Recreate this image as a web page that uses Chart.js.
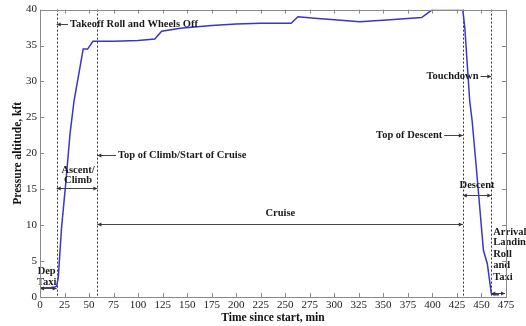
<!DOCTYPE html>
<html>
<head>
<meta charset="utf-8">
<script src="https://cdn.jsdelivr.net/npm/chart.js@4"></script>
<style>
  body { margin: 0; background: #fff; }
  #chart-container { width: 526px; height: 326px; }
</style>
</head>
<body>
<div id="chart-container"><canvas id="chart"></canvas></div>
<script>
// flight profile: time since start (min) and pressure altitude (kft)
const timeMin = [0, 5, 10, 15, 17, 18.7, 22, 26.5, 30.6, 34.7, 39, 44, 48.5, 54, 58.5,
    75, 100, 117, 124, 143, 175, 200, 225, 256, 263, 280, 300, 326, 357, 389, 399, 420, 431,
    433, 438, 440.5, 445, 452, 456, 460, 462, 468];
const altitudeKft = [1.3, 1.3, 1.3, 1.4, 1.5, 2.8, 9.7, 16.2, 22.7, 27.3, 30.6, 34.5, 34.5, 35.6, 35.6,
    35.6, 35.7, 35.9, 37.0, 37.4, 37.8, 38.0, 38.1, 38.1, 39.0, 38.8, 38.6, 38.3, 38.6, 38.9, 39.9, 39.9, 39.9,
    37.5, 27.3, 24.5, 17.6, 6.5, 4.6, 0.5, 0.3, 0.3];

const xTicks = [0, 25, 50, 75, 100, 125, 150, 175, 200, 225, 250, 275, 300, 325, 350, 375, 400, 425, 450, 475];
const yTicks = [0, 5, 10, 15, 20, 25, 30, 35, 40];

// phase boundaries (dotted vertical lines), minutes
const phaseLines = [17, 58.5, 431, 460];

// labels pointing at a boundary: text, text anchor (min, kft), alignment, arrow tip (min)
const callouts = [
    { text: "Takeoff Roll and Wheels Off", x: 30.5, y: 38.0, align: "left", tip: 17 },
    { text: "Top of Climb/Start of Cruise", x: 79.5, y: 19.8, align: "left", tip: 58.5 },
    { text: "Top of Descent", x: 410, y: 22.5, align: "right", tip: 431 },
    { text: "Touchdown", x: 447, y: 30.8, align: "right", tip: 460 }
];

// phase spans with double arrows: from, to, arrow level, text lines, text anchor
const spans = [
    { from: 0, to: 17, y: 1.3, lines: ["Dep", "Taxi"], tx: 6.8, ty: [3.6, 2.1], align: "center" },
    { from: 17, to: 58.5, y: 15.2, lines: ["Ascent/", "Climb"], tx: 38.8, ty: [17.7, 16.2], align: "center" },
    { from: 58.5, to: 431, y: 10.1, lines: ["Cruise"], tx: 245, ty: [11.6], align: "center" },
    { from: 431, to: 460, y: 14.2, lines: ["Descent"], tx: 445.5, ty: [15.6], align: "center" },
    { from: 460, to: 474, y: 0.5, lines: ["Arrival", "Landing", "Roll", "and", "Taxi"], tx: 462,
      ty: [9.0, 7.6, 6.0, 4.4, 2.8], align: "left" }
];

const serif = "'Liberation Serif', 'DejaVu Serif', serif";

function arrowHead(ctx, x, y, dir){
    ctx.beginPath();
    ctx.moveTo(x, y);
    ctx.lineTo(x - dir * 4, y - 2);
    ctx.lineTo(x - dir * 4, y + 2);
    ctx.closePath();
    ctx.fill();
}

const framePlugin = {
    id: "frame",
    beforeDatasetsDraw(chart){
        const ctx = chart.ctx, xs = chart.scales.x, a = chart.chartArea;
        ctx.save();
        ctx.strokeStyle = "#333";
        ctx.lineWidth = 1;
        ctx.setLineDash([2, 2]);
        phaseLines.forEach(t => {
            const px = Math.round(xs.getPixelForValue(t)) + 0.5;
            ctx.beginPath();
            ctx.moveTo(px, a.top);
            ctx.lineTo(px, a.bottom);
            ctx.stroke();
        });
        ctx.restore();
    },
    afterDatasetsDraw(chart){
        const ctx = chart.ctx, xs = chart.scales.x, ys = chart.scales.y;
        ctx.save();
        ctx.font = "bold 10.5px " + serif;
        ctx.fillStyle = "#1a1a1a";
        ctx.strokeStyle = "#444";
        ctx.lineWidth = 1;
        ctx.textBaseline = "middle";

        callouts.forEach(c => {
            const tx = xs.getPixelForValue(c.x), py = Math.round(ys.getPixelForValue(c.y)) + 0.5;
            const tip = xs.getPixelForValue(c.tip);
            ctx.textAlign = c.align;
            ctx.fillText(c.text, tx, py);
            const dir = tip < tx ? -1 : 1;
            const start = c.align === "left" ? tx - 2 : tx + 2;
            ctx.beginPath();
            ctx.moveTo(start, py);
            ctx.lineTo(tip, py);
            ctx.stroke();
            ctx.fillStyle = "#333";
            arrowHead(ctx, tip, py, dir);
            ctx.fillStyle = "#1a1a1a";
        });

        spans.forEach(s => {
            const x1 = xs.getPixelForValue(s.from), x2 = xs.getPixelForValue(s.to);
            const py = Math.round(ys.getPixelForValue(s.y)) + 0.5;
            ctx.beginPath();
            ctx.moveTo(x1, py);
            ctx.lineTo(x2, py);
            ctx.stroke();
            ctx.fillStyle = "#333";
            arrowHead(ctx, x1, py, -1);
            arrowHead(ctx, x2, py, 1);
            ctx.fillStyle = "#1a1a1a";
            ctx.textAlign = s.align;
            s.lines.forEach((ln, i) => {
                ctx.fillText(ln, xs.getPixelForValue(s.tx), ys.getPixelForValue(s.ty[i]));
            });
        });
        ctx.restore();
    },
    afterDraw(chart){
        const ctx = chart.ctx, xs = chart.scales.x, ys = chart.scales.y, a = chart.chartArea;
        ctx.save();
        ctx.strokeStyle = "#8a8a8a";
        ctx.lineWidth = 1;
        ctx.strokeRect(Math.round(a.left) + 0.5, Math.round(a.top) + 0.5,
            Math.round(a.right - a.left), Math.round(a.bottom - a.top));
        ctx.beginPath();
        xTicks.forEach(t => {
            const px = Math.round(xs.getPixelForValue(t)) + 0.5;
            ctx.moveTo(px, a.bottom); ctx.lineTo(px, a.bottom - 4);
            ctx.moveTo(px, a.top); ctx.lineTo(px, a.top + 4);
        });
        yTicks.forEach(v => {
            const py = Math.round(ys.getPixelForValue(v)) + 0.5;
            ctx.moveTo(a.left, py); ctx.lineTo(a.left + 4, py);
            ctx.moveTo(a.right, py); ctx.lineTo(a.right - 4, py);
        });
        ctx.stroke();
        ctx.restore();
    }
};

const points = timeMin.map((t, i) => ({ x: t, y: altitudeKft[i] }));

const ctx = document.getElementById("chart").getContext("2d");

new Chart(ctx, {
    type: "line",
    data: {
        datasets: [{
            data: points,
            borderColor: "#3b35c8",
            borderWidth: 1.5,
            pointRadius: 0,
            tension: 0,
            fill: false
        }]
    },
    options: {
        responsive: true,
        maintainAspectRatio: false,
        animation: false,
        layout: { padding: { top: 9, right: 20, left: 0, bottom: 0 } },
        plugins: {
            legend: { display: false },
            tooltip: { enabled: false }
        },
        scales: {
            x: {
                type: "linear",
                min: 0,
                max: 475,
                afterBuildTicks: scale => { scale.ticks = xTicks.map(v => ({ value: v })); },
                afterFit: scale => { scale.height = 29; },
                grid: { display: false, drawTicks: false },
                border: { display: false },
                ticks: { color: "#222", padding: 2, maxRotation: 0, autoSkip: false,
                    font: { family: serif, size: 11 } },
                title: {
                    display: true,
                    text: "Time since start, min",
                    color: "#111",
                    padding: { top: 0, bottom: 1 },
                    font: { family: serif, size: 11.5, weight: "bold" }
                }
            },
            y: {
                min: 0,
                max: 40,
                afterBuildTicks: scale => { scale.ticks = yTicks.map(v => ({ value: v })); },
                afterFit: scale => { scale.width = 40; },
                grid: { display: false, drawTicks: false },
                border: { display: false },
                ticks: { color: "#222", padding: 3, font: { family: serif, size: 11 } },
                title: {
                    display: true,
                    text: "Pressure altitude, kft",
                    color: "#111",
                    padding: { top: 11, bottom: 0 },
                    font: { family: serif, size: 11.5, weight: "bold" }
                }
            }
        }
    },
    plugins: [framePlugin]
});
</script>
</body>
</html>
